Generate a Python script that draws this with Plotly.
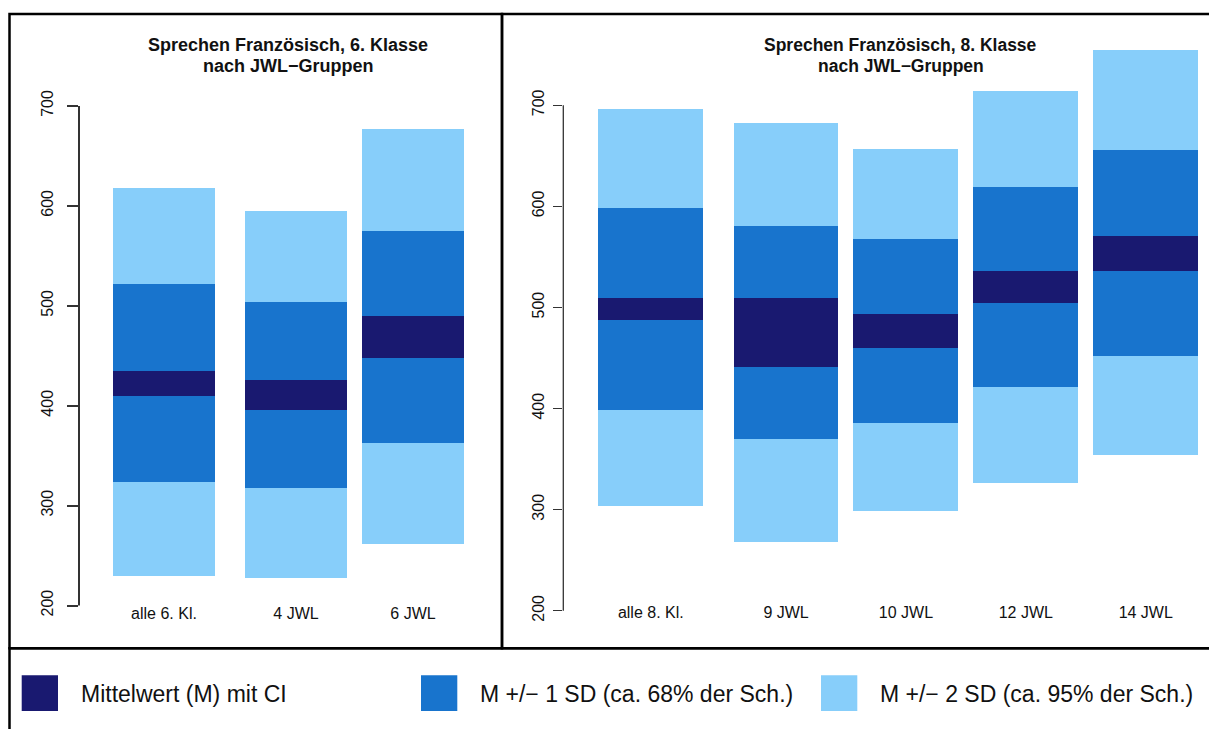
import plotly.graph_objects as go

W, H = 1209, 729

# Sprechen Französisch, 6. Klasse: band limits per JWL group
cat6 = ["alle 6. Kl.", "4 JWL", "6 JWL"]
sd2_lo6 = [230, 228, 262]
sd1_lo6 = [324, 318, 363]
ci_lo6 = [410, 396, 448]
ci_hi6 = [435, 426, 490]
sd1_hi6 = [522, 504, 575]
sd2_hi6 = [618, 595, 677]

# Sprechen Französisch, 8. Klasse: band limits per JWL group
cat8 = ["alle 8. Kl.", "9 JWL", "10 JWL", "12 JWL", "14 JWL"]
sd2_lo8 = [304, 268, 299, 327, 354]
sd1_lo8 = [399, 370, 386, 422, 452]
ci_lo8 = [488, 441, 460, 505, 536]
ci_hi8 = [510, 510, 494, 536, 571]
sd1_hi8 = [599, 581, 568, 619, 656]
sd2_hi8 = [696, 683, 657, 714, 755]

y_ticks = [200, 300, 400, 500, 600, 700]

titles = [
    ("Sprechen Französisch, 6. Klasse", "nach JWL\u2212Gruppen"),
    ("Sprechen Französisch, 8. Klasse", "nach JWL\u2212Gruppen"),
]
legend_labels = [
    "Mittelwert (M) mit CI",
    "M +/\u2212 1 SD (ca. 68% der Sch.)",
    "M +/\u2212 2 SD (ca. 95% der Sch.)",
]

NAVY = "#191970"
BLUE = "#1874CD"
LIGHT = "#87CEFA"
FONT = "Liberation Sans, Arial, sans-serif"
BAR_W = 0.87
GROUP_GAP = 0.128  # extra space after the "alle" bar


def px(x):
    return x / W


def py(y):
    return 1 - y / H


def slots(n):
    return [i + (GROUP_GAP if i > 0 else 0) for i in range(n)]


def x_range(axis_px, first_px, unit_px, end_px):
    lo = -(first_px - axis_px) / unit_px
    return [lo, lo + (end_px - axis_px) / unit_px]


def y_range(top_px, bot_px, px200, px700):
    s = (px200 - px700) / 500.0
    return [200 - (bot_px - px200) / s, 700 + (px700 - top_px) / s]


fig = go.Figure()


def add_panel(cats, bands, xa, ya):
    pos = slots(len(cats))
    for lo, hi, col in bands:
        fig.add_trace(go.Bar(
            x=pos, y=[h - l for l, h in zip(lo, hi)], base=lo,
            width=BAR_W, marker=dict(color=col, line=dict(width=0)),
            xaxis=xa, yaxis=ya, showlegend=False, hoverinfo="skip"))
    return pos


pos6 = add_panel(cat6, [(sd2_lo6, sd2_hi6, LIGHT), (sd1_lo6, sd1_hi6, BLUE),
                        (ci_lo6, ci_hi6, NAVY)], "x", "y")
pos8 = add_panel(cat8, [(sd2_lo8, sd2_hi8, LIGHT), (sd1_lo8, sd1_hi8, BLUE),
                        (ci_lo8, ci_hi8, NAVY)], "x2", "y2")

tickfont = dict(family=FONT, size=16, color="#111")

fig.update_layout(
    width=W, height=H, autosize=False,
    margin=dict(l=0, r=0, t=0, b=0),
    paper_bgcolor="white", plot_bgcolor="white",
    barmode="overlay", bargap=0,
    font=dict(family=FONT, color="#111"),
    xaxis=dict(domain=[px(79), px(502)], range=x_range(79, 164, 117, 502),
               tickvals=pos6, ticktext=cat6, tickfont=tickfont,
               showgrid=False, zeroline=False, showline=False, ticks="",
               anchor="free", position=py(601)),
    yaxis=dict(domain=[py(625), py(90)], range=y_range(90, 625, 605, 103.3),
               tickvals=y_ticks, tickangle=-90, tickfont=tickfont,
               ticks="outside", ticklen=11, tickwidth=1.5, tickcolor="#333",
               ticklabelstandoff=8,
               showgrid=False, zeroline=False, showline=False, anchor="x"),
    xaxis2=dict(domain=[px(563.3), 1.0], range=x_range(563.3, 650.8, 119.9, 1209),
                tickvals=pos8, ticktext=cat8, tickfont=tickfont,
                showgrid=False, zeroline=False, showline=False, ticks="",
                anchor="free", position=py(600)),
    yaxis2=dict(domain=[py(625), py(40)], range=y_range(40, 625, 610.3, 102.7),
                tickvals=y_ticks, tickangle=-90, tickfont=tickfont,
                ticks="outside", ticklen=9, tickwidth=1.2, tickcolor="#333",
                ticklabelstandoff=3,
                showgrid=False, zeroline=False, showline=False, anchor="x2"),
)

shapes = []
# y axis lines spanning only the labelled ticks
for xr, yr, w in (("x domain", "y", 2), ("x2 domain", "y2", 1.3)):
    shapes.append(dict(type="line", xref=xr, yref=yr, x0=0, x1=0,
                       y0=y_ticks[0], y1=y_ticks[-1],
                       line=dict(color="#333", width=w)))

# panel frames and legend box
for x0, y0, x1, y1 in ((9.5, 11, 502, 648), (502, 11, 1216, 648), (9.5, 648, 1216, 740)):
    shapes.append(dict(type="rect", xref="paper", yref="paper",
                       x0=px(x0), x1=px(x1), y0=py(y1), y1=py(y0),
                       line=dict(color="black", width=2.5), fillcolor="rgba(0,0,0,0)",
                       layer="above"))

# legend swatches
swatch_x = [21.7, 421, 821]
text_x = [79, 478, 878]
for sx, col in zip(swatch_x, [NAVY, BLUE, LIGHT]):
    shapes.append(dict(type="rect", xref="paper", yref="paper",
                       x0=px(sx), x1=px(sx + 36.3), y0=py(711), y1=py(675),
                       line=dict(width=0), fillcolor=col))

annotations = []
for tx, lab in zip(text_x, legend_labels):
    annotations.append(dict(text=lab, xref="paper", yref="paper", x=px(tx), y=py(693.5),
                            xanchor="left", yanchor="middle", showarrow=False,
                            font=dict(family=FONT, size=23, color="#111")))

for cx, (l1, l2), fs in zip([288.3, 900.6], titles, [18, 17.5]):
    for ty, line in ((42.5, l1), (63, l2)):
        annotations.append(dict(text="<b>" + line + "</b>", xref="paper", yref="paper",
                                x=px(cx), y=py(ty), xanchor="center", yanchor="middle",
                                showarrow=False,
                                font=dict(family=FONT, size=fs, color="#111")))

fig.update_layout(shapes=shapes, annotations=annotations)

fig.write_html("out.html")
